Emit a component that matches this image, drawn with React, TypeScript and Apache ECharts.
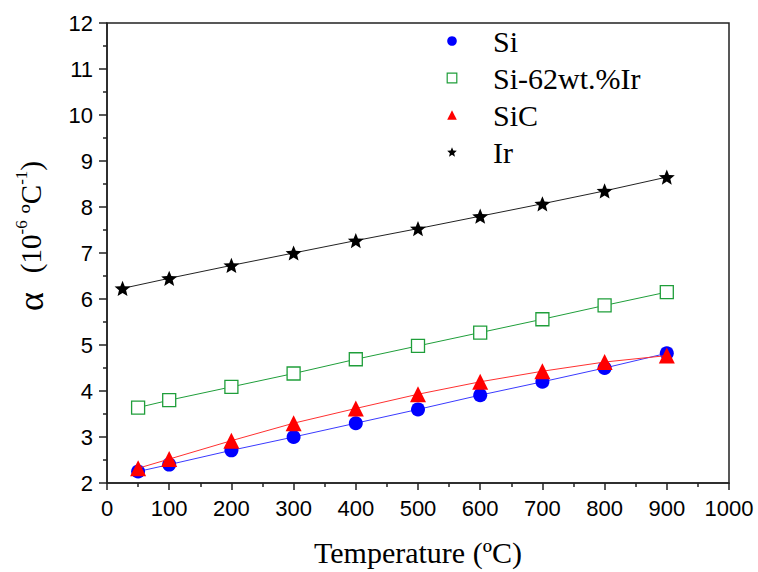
import React, { useEffect, useRef } from "react";
import * as echarts from "echarts";

const siTemps = [50, 100, 200, 300, 400, 500, 600, 700, 800, 900];
const siValues = [2.25, 2.4, 2.71, 3.0, 3.3, 3.6, 3.91, 4.2, 4.5, 4.82];

const siIrTemps = [50, 100, 200, 300, 400, 500, 600, 700, 800, 900];
const siIrValues = [3.64, 3.8, 4.09, 4.38, 4.69, 4.98, 5.27, 5.56, 5.86, 6.15];

const sicTemps = [50, 100, 200, 300, 400, 500, 600, 700, 800, 900];
const sicValues = [2.32, 2.52, 2.92, 3.3, 3.62, 3.93, 4.2, 4.43, 4.63, 4.77];

const irTemps = [25, 100, 200, 300, 400, 500, 600, 700, 800, 900];
const irValues = [6.23, 6.45, 6.73, 7.0, 7.27, 7.53, 7.8, 8.07, 8.35, 8.65];

const seriesNames = ["Si", "Si-62wt.%Ir", "SiC", "Ir"];

const STAR =
  "path://M50 0 L62.93 32.2 L97.55 34.55 L70.92 56.8 L79.39 90.45 L50 72 L20.61 90.45 L29.08 56.8 L2.45 34.55 L37.07 32.2 Z";

const BLUE = "#0000ff";
const GREEN = "#1f9e3a";
const RED = "#ff0000";
const BLACK = "#000000";

function pairs(xs: number[], ys: number[]) {
  return xs.map((x, i) => [x, ys[i]]);
}

export default function App() {
  const ref = useRef<HTMLDivElement>(null);
  useEffect(() => {
    if (!ref.current) return;
    const chart = echarts.init(ref.current, null, { renderer: "svg" });
    const tickLabel = {
      fontFamily: "Liberation Sans",
      fontSize: 22,
      color: "#000",
      formatter: (v: number) => String(v),
    };
    chart.setOption({
      animation: false,
      backgroundColor: "#fff",
      grid: {
        left: 107,
        right: 29,
        top: 23,
        bottom: 85,
        show: true,
        borderColor: "#222",
        borderWidth: 1.5,
        containLabel: false,
      },
      legend: {
        orient: "vertical",
        left: 416,
        top: 26,
        padding: 0,
        itemWidth: 72,
        itemHeight: 12,
        itemGap: 7,
        lineStyle: { width: 0, opacity: 0 },
        textStyle: {
          fontFamily: "Liberation Serif",
          fontSize: 30,
          color: "#000",
        },
        data: [
          { name: seriesNames[0] },
          {
            name: seriesNames[1],
            itemStyle: { color: "#fff", borderColor: GREEN, borderWidth: 1.2 },
          },
          { name: seriesNames[2] },
          { name: seriesNames[3] },
        ],
      },
      xAxis: {
        type: "value",
        min: 0,
        max: 1000,
        interval: 100,
        name: "Temperature (ºC)",
        nameLocation: "middle",
        nameGap: 54,
        nameTextStyle: {
          fontFamily: "Liberation Serif",
          fontSize: 30,
          color: "#000",
        },
        axisLine: { show: true, lineStyle: { color: "#222", width: 1.5 } },
        axisTick: { show: true, inside: false, length: 7, lineStyle: { color: "#222", width: 1.5 } },
        minorTick: { show: true, splitNumber: 2, length: 4, lineStyle: { color: "#222", width: 1.5 } },
        splitLine: { show: false },
        axisLabel: { ...tickLabel, margin: 14 },
      },
      yAxis: {
        type: "value",
        min: 2,
        max: 12,
        interval: 1,
        axisLine: { show: true, lineStyle: { color: "#222", width: 1.5 } },
        axisTick: { show: true, inside: false, length: 8, lineStyle: { color: "#222", width: 1.5 } },
        minorTick: { show: true, splitNumber: 2, length: 4, lineStyle: { color: "#222", width: 1.5 } },
        splitLine: { show: false },
        axisLabel: { ...tickLabel, margin: 14 },
      },
      graphic: [
        {
          type: "text",
          x: 31,
          y: 236,
          rotation: Math.PI / 2,
          style: {
            text: "{a|α}{p|(10}{s|-6}{p| º}{p|C}{s|-1}{p|)}",
            align: "center",
            verticalAlign: "middle",
            fill: "#000",
            rich: {
              a: {
                fontFamily: "Liberation Serif",
                fontSize: 36,
                fill: "#000",
                padding: [0, 19, 0, 0],
              },
              p: { fontFamily: "Liberation Serif", fontSize: 29, fill: "#000" },
              s: {
                fontFamily: "Liberation Serif",
                fontSize: 17,
                fill: "#000",
                verticalAlign: "top",
              },
            },
          },
        },
      ],
      series: [
        {
          name: seriesNames[0],
          type: "line",
          data: pairs(siTemps, siValues),
          symbol: "circle",
          symbolSize: 14,
          itemStyle: { color: BLUE },
          lineStyle: { color: "#3a3aff", width: 1 },
          z: 2,
        },
        {
          name: seriesNames[1],
          type: "line",
          data: pairs(siIrTemps, siIrValues),
          symbol: "rect",
          symbolSize: 13,
          itemStyle: { color: "#fff", borderColor: GREEN, borderWidth: 1.3 },
          lineStyle: { color: GREEN, width: 1 },
          z: 2,
        },
        {
          name: seriesNames[2],
          type: "line",
          data: pairs(sicTemps, sicValues),
          symbol: "triangle",
          symbolSize: 16,
          itemStyle: { color: RED },
          lineStyle: { color: "#ff3030", width: 1 },
          z: 3,
        },
        {
          name: seriesNames[3],
          type: "line",
          data: pairs(irTemps, irValues),
          symbol: STAR,
          symbolSize: 16,
          symbolKeepAspect: true,
          itemStyle: { color: BLACK },
          lineStyle: { color: "#222", width: 1 },
          z: 2,
        },
      ],
    });
    return () => chart.dispose();
  }, []);
  return (
    <div
      ref={ref}
      style={{ position: "fixed", left: 0, top: 0, width: 758, height: 572, overflow: "hidden" }}
    />
  );
}
